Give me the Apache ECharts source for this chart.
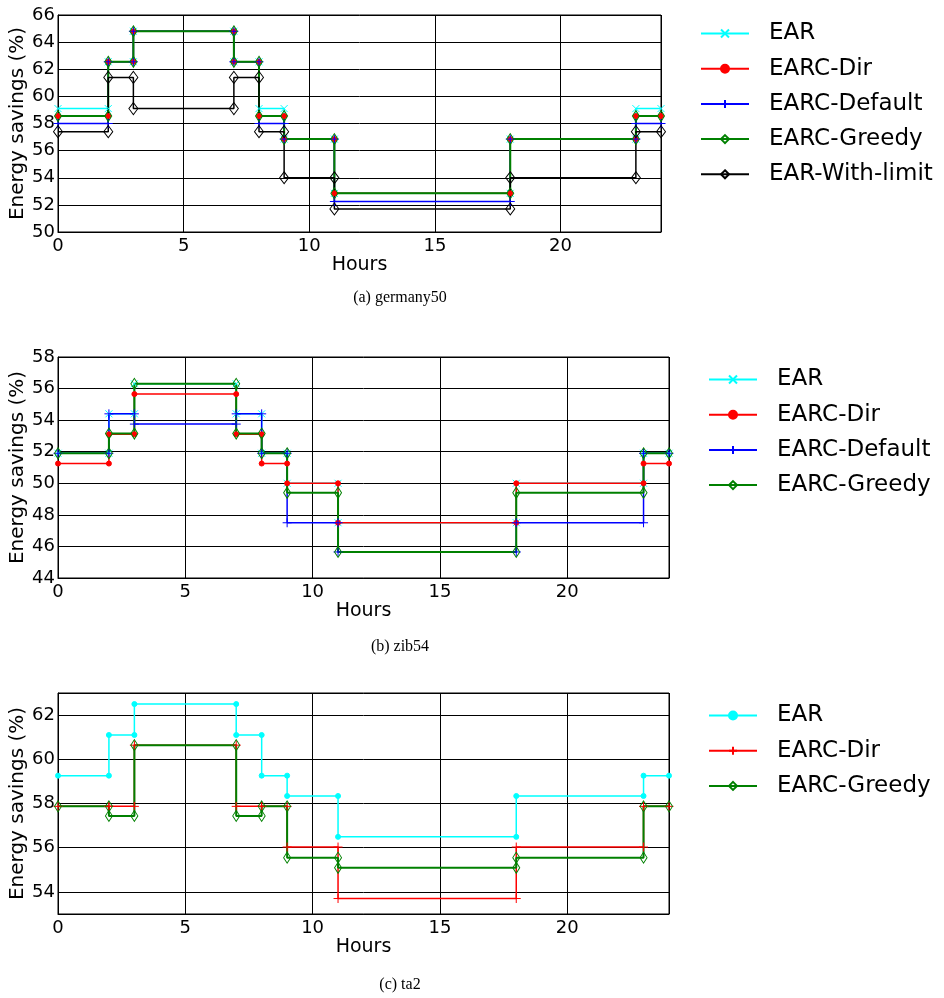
<!DOCTYPE html>
<html><head><meta charset="utf-8">
<script src="https://cdn.jsdelivr.net/npm/echarts@6/dist/echarts.min.js"></script>
<style>html,body{margin:0;padding:0;background:#fff}#c{width:944px;height:998px}</style>
</head><body><div id="c"></div>
<script>
// Hour breakpoints of the step segments
const hours = [0, 2, 3, 7, 8, 9, 11, 18, 23, 24];
const xRange = [0, 24];

// (a) germany50 - value of each segment between consecutive breakpoints
const g50_EAR      = [59.1, 62.55, 64.8, 62.55, 59.1, 56.85, 52.85, 56.85, 59.1];
const g50_Dir      = [58.55, 62.55, 64.8, 62.55, 58.55, 56.85, 52.85, 56.85, 58.55];
const g50_Default  = [58.0, 62.55, 64.8, 62.55, 58.0, 56.85, 52.25, 56.85, 58.0];
const g50_Greedy   = [58.55, 62.55, 64.8, 62.55, 58.55, 56.85, 52.85, 56.85, 58.55];
const g50_Limit    = [57.4, 61.4, 59.1, 61.4, 57.4, 54.0, 51.7, 54.0, 57.4];
const g50_yRange   = [50, 66];

// (b) zib54
const z54_EAR      = [51.9, 54.4, 56.3, 54.4, 51.9, 50.0, 47.5, 50.0, 51.9];
const z54_Dir      = [51.25, 53.1, 55.65, 53.1, 51.25, 50.0, 47.5, 50.0, 51.25];
const z54_Default  = [51.9, 54.4, 53.75, 54.4, 51.9, 47.5, 45.65, 47.5, 51.9];
const z54_Greedy   = [51.9, 53.15, 56.3, 53.15, 51.9, 49.4, 45.65, 49.4, 51.9];
const z54_yRange   = [44, 58];

// (c) ta2
const ta2_EAR      = [59.26, 61.1, 62.5, 61.1, 59.26, 58.34, 56.49, 58.34, 59.26];
const ta2_Dir      = [57.87, 57.87, 60.64, 57.87, 57.87, 56.03, 53.7, 56.03, 57.87];
const ta2_Greedy   = [57.87, 57.44, 60.64, 57.44, 57.87, 55.55, 55.09, 55.55, 57.87];
const ta2_yRange   = [53, 63];

const captions = ['(a) germany50', '(b) zib54', '(c) ta2'];
const legendNames = ['EAR', 'EARC-Dir', 'EARC-Default', 'EARC-Greedy', 'EAR-With-limit'];

const SYM_X = 'path://M0,0L10,10M10,0L0,10';
const SYM_PLUS = 'path://M5,0L5,10M0,5L10,5';
const FONT = 'DejaVu Sans';

function stepPoints(vals) {
  const pts = [];
  for (let i = 0; i < vals.length; i++) {
    pts.push([hours[i], vals[i]]);
    pts.push([hours[i + 1], vals[i]]);
  }
  return pts;
}

function mk(panel, gi, label, vals, color, symbol, size, hollow, width) {
  return {
    type: 'line', name: panel + '|' + label, xAxisIndex: gi, yAxisIndex: gi,
    data: stepPoints(vals), symbol: symbol, symbolSize: size, showSymbol: true,
    animation: false, clip: true,
    lineStyle: { color: color, width: width },
    itemStyle: { color: hollow ? 'rgba(255,255,255,0)' : color, borderColor: color, borderWidth: 1 },
    emphasis: { disabled: true }
  };
}

const series = [
  mk('a', 0, legendNames[0], g50_EAR, '#00FFFF', SYM_X, 7, false, 1.5),
  mk('a', 0, legendNames[1], g50_Dir, '#FF0000', 'circle', 5, false, 1.5),
  mk('a', 0, legendNames[2], g50_Default, '#0000FF', SYM_PLUS, 9, false, 1.5),
  mk('a', 0, legendNames[3], g50_Greedy, '#008000', 'diamond', [7, 11], true, 2),
  mk('a', 0, legendNames[4], g50_Limit, '#000000', 'diamond', [9, 12], true, 1.5),

  mk('b', 1, legendNames[0], z54_EAR, '#00FFFF', SYM_X, 7, false, 1.5),
  mk('b', 1, legendNames[1], z54_Dir, '#FF0000', 'circle', 5, false, 1.5),
  mk('b', 1, legendNames[2], z54_Default, '#0000FF', SYM_PLUS, 9, false, 1.5),
  mk('b', 1, legendNames[3], z54_Greedy, '#008000', 'diamond', [7, 11], true, 2),

  mk('c', 2, legendNames[0], ta2_EAR, '#00FFFF', 'circle', 5, false, 1.5),
  mk('c', 2, legendNames[1], ta2_Dir, '#FF0000', SYM_PLUS, 9, false, 1.5),
  mk('c', 2, legendNames[3], ta2_Greedy, '#008000', 'diamond', [7, 11], true, 2)
];

const grids = [
  { left: 58, top: 15, width: 603, height: 217 },
  { left: 58, top: 357, width: 611, height: 221 },
  { left: 58, top: 693, width: 611, height: 221 }
].map(g => Object.assign({ show: true, borderColor: '#000', borderWidth: 1, backgroundColor: 'transparent',
  containLabel: false, outerBoundsMode: 'none' }, g));

const yRanges = [g50_yRange, z54_yRange, ta2_yRange];

const xAxes = grids.map((g, i) => ({
  type: 'value', gridIndex: i, min: xRange[0], max: xRange[1], interval: 5,
  axisLine: { show: true, lineStyle: { color: '#000', width: 1 } },
  axisTick: { show: false },
  splitLine: { show: true, lineStyle: { color: '#000', width: 1 } },
  axisLabel: { fontSize: 18, color: '#000', fontFamily: FONT, margin: 5, showMaxLabel: false },
  name: 'Hours', nameLocation: 'middle', nameGap: 24, nameMoveOverlap: false,
  nameTextStyle: { fontSize: 19, color: '#000', fontFamily: FONT }
}));

const yAxes = grids.map((g, i) => {
  const ax = {
    type: 'value', gridIndex: i, min: yRanges[i][0], max: yRanges[i][1],
    axisLine: { show: true, lineStyle: { color: '#000', width: 1 } },
    axisTick: { show: false },
    splitLine: { show: true, lineStyle: { color: '#000', width: 1 } },
    axisLabel: { fontSize: 18, color: '#000', fontFamily: FONT, margin: 3 },
    name: 'Energy savings (%)', nameLocation: 'middle', nameGap: 30, nameMoveOverlap: false,
    nameTextStyle: { fontSize: 20, color: '#000', fontFamily: FONT }
  };
  if (i < 2) ax.interval = 2;
  else { ax.splitNumber = 5; ax.axisLabel.showMinLabel = false; ax.axisLabel.showMaxLabel = false; }
  return ax;
});

function legendFor(panel, names, left, top) {
  return {
    orient: 'vertical', left: left, top: top, itemWidth: 48, itemHeight: 10, itemGap: 12.2,
    selectedMode: false,
    data: names.map(n => panel + '|' + n),
    formatter: n => n.split('|')[1],
    textStyle: { fontSize: 23, color: '#000', fontFamily: FONT, padding: [0, 0, 0, 15] }
  };
}

const legends = [
  legendFor('a', legendNames, 695, 17),
  legendFor('b', legendNames.slice(0, 4), 703, 363),
  legendFor('c', [legendNames[0], legendNames[1], legendNames[3]], 703, 699)
];

const captionY = [298, 647, 985];
const graphic = captions.map((t, i) => ({
  type: 'text', x: 400, y: captionY[i],
  style: { text: t, fontSize: 16, fontFamily: 'Liberation Serif', fill: '#000', align: 'center', verticalAlign: 'middle' }
}));

const chart = echarts.init(document.getElementById('c'), null, { renderer: 'canvas' });
chart.setOption({
  animation: false,
  backgroundColor: '#fff',
  grid: grids, xAxis: xAxes, yAxis: yAxes,
  legend: legends, series: series, graphic: graphic
});
</script>
</body></html>
